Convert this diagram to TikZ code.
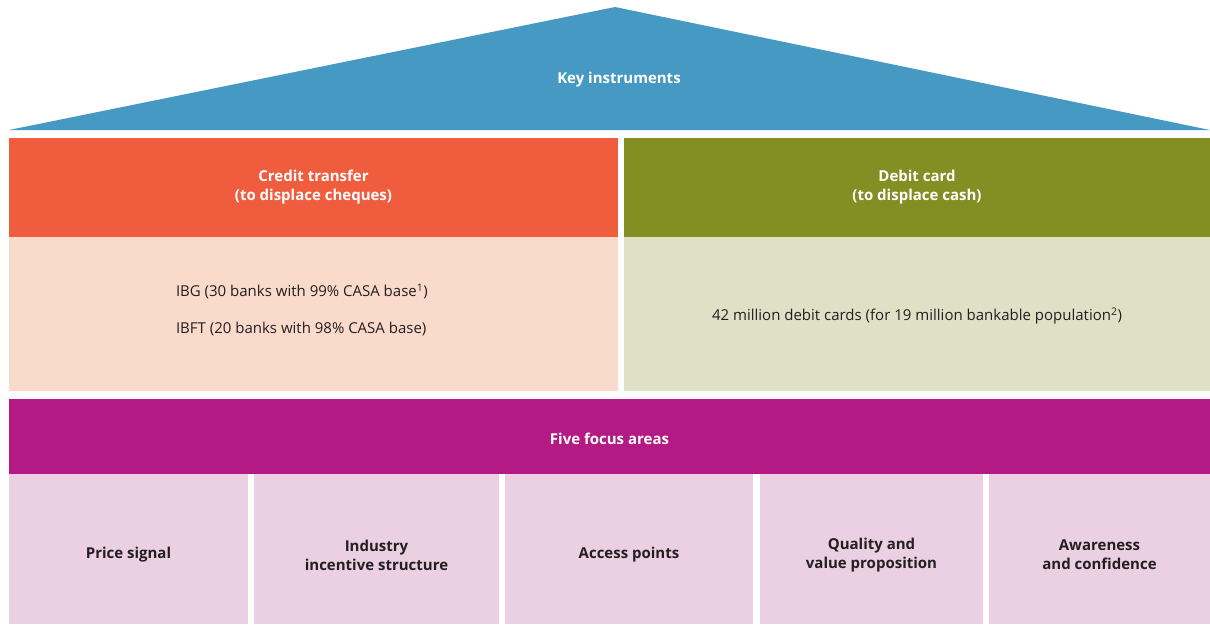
\documentclass[tikz,border=0pt]{standalone}
\usepackage{fontspec}
\setmainfont{Open Sans}
\usepackage{tikz}
\usetikzlibrary{
  positioning,
  calc
}
\definecolor{keyblue}{HTML}{4599C3}
\definecolor{credit}{HTML}{F05C3E}
\definecolor{creditlight}{HTML}{FADBCB}
\definecolor{debit}{HTML}{838F23}
\definecolor{debitlight}{HTML}{DFE1C7}
\definecolor{focus}{HTML}{B41A84}
\definecolor{focuslight}{HTML}{EAD0E2}
\definecolor{bodytext}{HTML}{231F20}
\tikzset{
  box/.style={inner sep=0pt,outer sep=0pt,align=center,anchor=north west},
  headbox/.style={box,text=white,font=\bfseries\fontsize{15}{19}\selectfont},
  bodybox/.style={box,text=bodytext,font=\fontsize{15}{18}\selectfont},
  arealabel/.style={yshift=-6pt,align=center,text=bodytext,
    font=\bfseries\fontsize{15}{19}\selectfont},
  areabox/.style={box,fill=focuslight,minimum height=150pt,
    label={[arealabel]center:#1}},
}

\begin{document}
\begin{tikzpicture}[x=1pt,y=-1pt]
\useasboundingbox (0,0) rectangle (1210,624);
\fill[keyblue] (9,130) -- (615,7) -- (1210,130) -- cycle;
\node[text=white,font=\bfseries\fontsize{15}{19}\selectfont] (key) at (619,80) {Key instruments};

\node[headbox,fill=credit,minimum width=609pt,minimum height=99pt] (credit) at (9,138)
  {Credit transfer\\(to displace cheques)};
\node[headbox,fill=debit,minimum width=586pt,minimum height=99pt] (debit) at (624,138)
  {Debit card\\(to displace cash)};
\node[bodybox,fill=creditlight,minimum width=609pt,minimum height=154pt,
  anchor=north] (creditbody) at (credit.south) {};
\node[bodybox,fill=debitlight,minimum width=586pt,minimum height=154pt,
  anchor=north] (debitbody) at (debit.south) {};
\node[bodybox,align=left,anchor=west] (creditnote) at (176,310)
  {IBG (30 banks with 99\% CASA base\textsuperscript{1})\\[19pt]
   IBFT (20 banks with 98\% CASA base)};
\node[bodybox,anchor=center] (debitnote) at ([yshift=-2pt]debitbody.center)
  {42 million debit cards (for 19 million bankable population\textsuperscript{2})};

\node[headbox,fill=focus,minimum width=1201pt,minimum height=75pt] (focus) at (9,399) {};
\node[headbox,anchor=center] (focustext) at ([yshift=-2pt]focus.center) {Five focus areas};
\node[areabox={Price signal},minimum width=239pt] (price) at (9,474) {};
\node[areabox={Industry\\incentive structure},minimum width=245pt] (industry) at (254,474) {};
\node[areabox={Access points},minimum width=248pt] (access) at (505,474) {};
\node[areabox={Quality and\\value proposition},minimum width=223pt] (quality) at (760,474) {};
\node[areabox={Awareness\\and confidence},minimum width=221pt] (aware) at (989,474) {};
\end{tikzpicture}
\end{document}
